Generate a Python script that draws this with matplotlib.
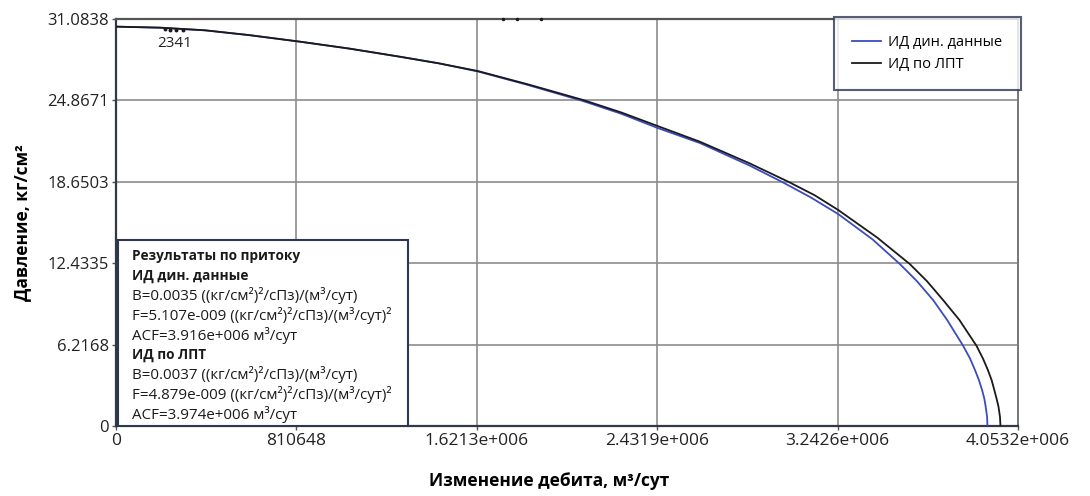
import matplotlib
matplotlib.use("Agg")
import matplotlib.pyplot as plt
from matplotlib.patches import Rectangle

plt.rcParams['font.family'] = ['Open Sans', 'DejaVu Sans']

# rate, m3/day  and pressure, kg/cm2
q_dyn = [0, 200000, 400000, 600000, 827700, 1050000, 1276800, 1450000, 1625800,
         1850000, 2098700, 2270000, 2434000, 2624200, 2848700, 2991000, 3120000,
         3245300, 3400000, 3522600, 3600000, 3672000, 3735000, 3806700, 3838000,
         3860000, 3878000, 3892000, 3902000, 3908000, 3914500, 3916200]
p_dyn = [30.50, 30.42, 30.22, 29.85, 29.35, 28.82, 28.20, 27.70, 27.08,
         26.05, 24.82, 23.85, 22.76, 21.61, 19.88, 18.66, 17.48,
         16.19, 14.25, 12.37, 11.05, 9.62, 8.10, 6.13, 5.15,
         4.28, 3.50, 2.75, 2.10, 1.50, 0.70, 0]

q_lpt = [0, 200000, 400000, 600000, 827700, 1050000, 1276800, 1450000, 1625800,
         1850000, 2098700, 2270000, 2434000, 2624200, 2848700, 3020700, 3140000,
         3245300, 3420000, 3567200, 3645000, 3716800, 3790000, 3866800, 3896000,
         3918000, 3935000, 3947000, 3957000, 3965500, 3972500, 3974600]
p_lpt = [30.50, 30.42, 30.22, 29.85, 29.35, 28.82, 28.20, 27.70, 27.11,
         26.10, 24.90, 23.95, 22.91, 21.71, 20.05, 18.66, 17.62,
         16.50, 14.40, 12.37, 11.05, 9.62, 8.10, 6.13, 5.15,
         4.28, 3.50, 2.75, 2.10, 1.50, 0.70, 0]

# measured points
q_pts = [221000, 244000, 271000, 302000]
p_pts = [30.30, 30.28, 30.25, 30.21]
q_top = [1741000, 1804000, 1910000]
p_top = [31.12, 31.12, 31.12]

x_ticks = [0, 810648, 1621300, 2431900, 3242600, 4053200]
x_labels = ['0', '810648', '1.6213e+006', '2.4319e+006', '3.2426e+006', '4.0532e+006']
y_ticks = [0, 6.2168, 12.4335, 18.6503, 24.8671, 31.0838]
y_labels = ['0', '6.2168', '12.4335', '18.6503', '24.8671', '31.0838']

info_lines = [
    ('Результаты по притоку', 'bold'),
    ('ИД дин. данные', 'bold'),
    ('B=0.0035 ((кг/см²)²/сПз)/(м³/сут)', 'normal'),
    ('F=5.107e-009 ((кг/см²)²/сПз)/(м³/сут)²', 'normal'),
    ('ACF=3.916e+006 м³/сут', 'normal'),
    ('ИД по ЛПТ', 'bold'),
    ('B=0.0037 ((кг/см²)²/сПз)/(м³/сут)', 'normal'),
    ('F=4.879e-009 ((кг/см²)²/сПз)/(м³/сут)²', 'normal'),
    ('ACF=3.974e+006 м³/сут', 'normal'),
]

fig = plt.figure(figsize=(10.9, 4.96), dpi=100)
ax = fig.add_axes([0.1064, 0.1411, 0.8275, 0.8206])

ax.plot(q_dyn, p_dyn, color='#3b4cc0', lw=1.3, label='ИД дин. данные', zorder=3)
ax.plot(q_lpt, p_lpt, color='#1a1a1a', lw=1.3, label='ИД по ЛПТ', zorder=3)
ax.plot(q_pts, p_pts, 'o', color='#1a1a1a', ms=1.8, zorder=4)
ax.plot(q_top, p_top, 'o', color='#1a1a1a', ms=1.5, zorder=4, clip_on=False)
ax.text(185000, 29.25, '2341', fontsize=11, color='#222222', va='center', ha='left')

ax.set_xlim(0, 4053200)
ax.set_ylim(0, 31.0838)
ax.set_xticks(x_ticks)
ax.set_xticklabels(x_labels, fontsize=12.5, color='#222222')
ax.set_yticks(y_ticks)
ax.set_yticklabels(y_labels, fontsize=12, color='#222222')
ax.tick_params(length=3, width=1, color='#555555', pad=2)
ax.grid(True, color='#8c8c8c', lw=1.2)
ax.set_axisbelow(True)

for s in ['left', 'bottom']:
    ax.spines[s].set_color('#333845')
    ax.spines[s].set_linewidth(1.6)
ax.spines['top'].set_color('#555555')
ax.spines['top'].set_linewidth(1.6)
ax.spines['right'].set_color('#777777')
ax.spines['right'].set_linewidth(1.4)

ax.set_xlabel('Изменение дебита, м³/сут', fontsize=12.5, fontweight='bold', va='center')
ax.xaxis.set_label_coords(0.48, -0.135)
ax.set_ylabel('Давление, кг/см²', fontsize=12.5, fontweight='bold', labelpad=12)

leg = ax.legend(loc='upper right', bbox_to_anchor=(1.003, 1.005), fontsize=10.5,
                frameon=True, fancybox=False, borderpad=1.25, labelspacing=0.45,
                handlelength=2.0, handletextpad=0.5, borderaxespad=0)
leg.get_frame().set_edgecolor('#2e3655')
leg.get_frame().set_linewidth(1.5)
leg.set_zorder(6)

# info box
box = Rectangle((0.002, 0.0), 0.322, 0.457, transform=ax.transAxes,
                facecolor='white', edgecolor='#2e3655', lw=1.5, zorder=5)
ax.add_patch(box)
y0 = 0.418
for i, (txt, w) in enumerate(info_lines):
    fs = 9.8 if w == 'bold' else 10.9
    ax.text(0.018, y0 - i * 0.0487, txt, transform=ax.transAxes, fontsize=fs,
            fontweight=w, va='center', ha='left', color='#1a1a1a', zorder=6)

fig.savefig('out.png', dpi=100)
